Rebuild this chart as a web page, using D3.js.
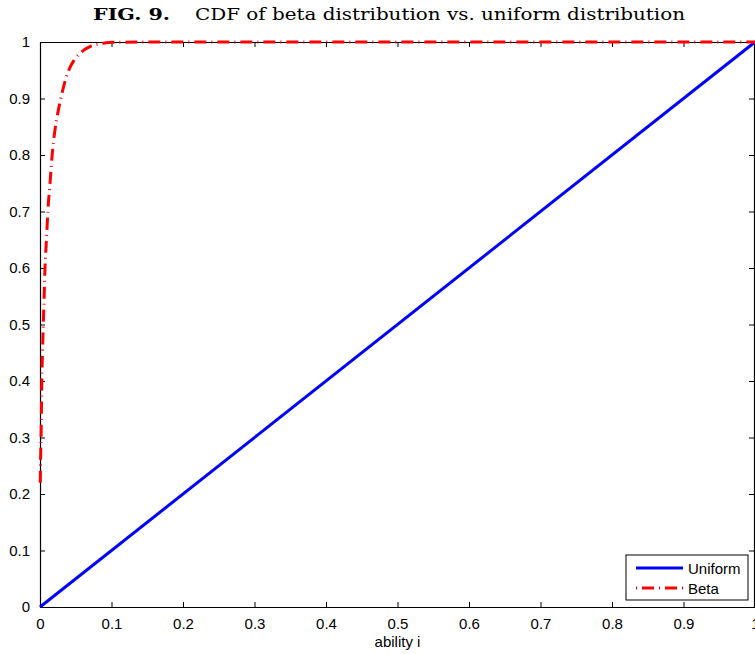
<!DOCTYPE html>
<html>
<head>
<meta charset="utf-8">
<script src="https://cdn.jsdelivr.net/npm/d3@7"></script>
<style>
  body { margin: 0; background: #fff; }
  svg { display: block; }
  .tick text { font-family: "Liberation Sans", Arial, sans-serif; font-size: 15px; fill: #000; }
</style>
</head>
<body>
<svg id="chart" width="755" height="654"></svg>
<script>
// uniform CDF
var uniformX = [0, 1];
var uniformY = [0, 1];

// beta CDF
var betaX = [0.0004, 0.0008, 0.0015, 0.0025, 0.0035, 0.0046, 0.0058, 0.007, 0.009, 0.011, 0.014, 0.017, 0.021, 0.025, 0.03, 0.036, 0.042, 0.049, 0.056, 0.063, 0.07, 0.08, 0.09, 0.1, 0.2, 0.4, 0.6, 0.8, 1];
var betaY = [0.22, 0.26, 0.30, 0.40, 0.45, 0.50, 0.55, 0.60, 0.65, 0.70, 0.75, 0.80, 0.845, 0.875, 0.905, 0.935, 0.955, 0.97, 0.98, 0.987, 0.992, 0.996, 0.998, 0.9995, 1, 1, 1, 1, 1];

var xTicks = [0, 0.1, 0.2, 0.3, 0.4, 0.5, 0.6, 0.7, 0.8, 0.9, 1];
var yTicks = [0, 0.1, 0.2, 0.3, 0.4, 0.5, 0.6, 0.7, 0.8, 0.9, 1];

var legendNames = ['Uniform', 'Beta'];

window.onload = function() {
    var svg = d3.select('#chart');
    var left = 40, top = 42, w = 715, h = 565;

    var x = d3.scaleLinear([0, 1], [left, left + w]);
    var y = d3.scaleLinear([0, 1], [top + h, top]);

    // title, stretched to the width of the original LaTeX caption
    var serif = '"DejaVu Serif", "Liberation Serif", serif';
    svg.append('text')
        .attr('x', 93).attr('y', 19.5)
        .attr('textLength', 77).attr('lengthAdjust', 'spacingAndGlyphs')
        .style('font-family', serif).style('font-size', '17px').style('font-weight', 'bold')
        .text('FIG. 9.');
    svg.append('text')
        .attr('x', 195).attr('y', 19.5)
        .attr('textLength', 490).attr('lengthAdjust', 'spacingAndGlyphs')
        .style('font-family', serif).style('font-size', '17px')
        .text('CDF of beta distribution vs. uniform distribution');

    var fmt = d3.format('');
    var xAxis = d3.axisBottom(x).tickValues(xTicks).tickSizeInner(-5).tickSizeOuter(0).tickPadding(11).tickFormat(fmt);
    var xTop = d3.axisTop(x).tickValues(xTicks).tickSizeInner(-5).tickSizeOuter(0).tickFormat('');
    var yAxis = d3.axisLeft(y).tickValues(yTicks).tickSizeInner(-5).tickSizeOuter(0).tickPadding(10).tickFormat(fmt);
    var yRight = d3.axisRight(y).tickValues(yTicks).tickSizeInner(-5).tickSizeOuter(0).tickFormat('');

    svg.append('g').attr('transform', 'translate(0,' + (top + h) + ')').call(xAxis);
    svg.append('g').attr('transform', 'translate(0,' + top + ')').call(xTop);
    svg.append('g').attr('transform', 'translate(' + left + ',0)').call(yAxis);
    svg.append('g').attr('transform', 'translate(' + (left + w - 1) + ',0)').call(yRight);

    svg.selectAll('.domain').attr('stroke', '#000').attr('stroke-width', 1.2);
    svg.selectAll('.tick line').attr('stroke', '#000');

    svg.append('text')
        .attr('x', x(0.5))
        .attr('y', 647)
        .attr('text-anchor', 'middle')
        .style('font-family', '"Liberation Sans", Arial, sans-serif')
        .style('font-size', '15px')
        .text('ability i');

    var line = d3.line().x(function(d) { return x(d[0]); }).y(function(d) { return y(d[1]); });

    svg.append('path')
        .datum(d3.zip(uniformX, uniformY))
        .attr('d', line)
        .attr('fill', 'none')
        .attr('stroke', '#0000ff')
        .attr('stroke-width', 3);

    svg.append('path')
        .datum(d3.zip(betaX, betaY))
        .attr('d', line.curve(d3.curveMonotoneX))
        .attr('fill', 'none')
        .attr('stroke', '#ff0000')
        .attr('stroke-width', 3)
        .attr('stroke-dasharray', '12,5,1,5');

    // legend
    var lg = svg.append('g').attr('transform', 'translate(626,555)');
    lg.append('rect')
        .attr('width', 122)
        .attr('height', 45)
        .attr('fill', '#fff')
        .attr('stroke', '#000')
        .attr('stroke-width', 1);
    var styles = [{c: '#0000ff', d: null}, {c: '#ff0000', d: '1,5,12,5'}];
    legendNames.forEach(function(name, i) {
        var ly = 13 + i * 20;
        lg.append('line')
            .attr('x1', 10).attr('x2', 57)
            .attr('y1', ly).attr('y2', ly)
            .attr('stroke', styles[i].c)
            .attr('stroke-width', 3)
            .attr('stroke-dasharray', styles[i].d);
        lg.append('text')
            .attr('x', 62)
            .attr('y', ly + 6)
            .style('font-family', '"Liberation Sans", Arial, sans-serif')
            .style('font-size', '15px')
            .text(name);
    });
};
</script>
</body>
</html>
